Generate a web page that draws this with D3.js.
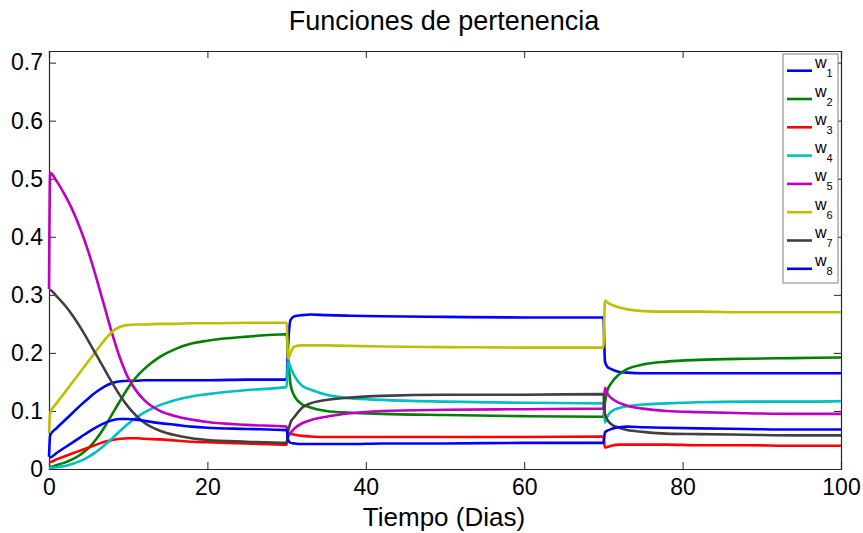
<!DOCTYPE html>
<html>
<head>
<meta charset="utf-8">
<script src="https://cdn.jsdelivr.net/npm/d3@7"></script>
<style>
  html, body { margin: 0; padding: 0; background: #fff; }
  svg { display: block; font-family: "Liberation Sans", Arial, Helvetica, sans-serif; }
</style>
</head>
<body>
<svg id="chart" width="863" height="533"></svg>
<script>
// ---- data ----
const chartTitle = "Funciones de pertenencia";
const xLabel = "Tiempo (Dias)";
const xTicks = [0, 20, 40, 60, 80, 100];
const yTicks = [0, 0.1, 0.2, 0.3, 0.4, 0.5, 0.6, 0.7];
const seriesNames = ["w1", "w2", "w3", "w4", "w5", "w6", "w7", "w8"];
const seriesColors = ["#0000ff", "#008000", "#ff0000", "#00bfbf", "#bf00bf", "#bfbf00", "#404040", "#0000ff"];

const time = [0, 0.15, 1, 2, 3, 4, 5, 6, 7, 8, 9, 10, 11, 12, 14, 16, 18, 20, 25, 30,
  30.2, 30.5, 31, 32, 33, 35, 38, 42, 50, 60, 70,
  70.2, 70.5, 71, 72, 73, 75, 78, 82, 88, 94, 100];

const w1 = [0.021, 0.058, 0.071, 0.084, 0.097, 0.110, 0.122, 0.133, 0.142, 0.148, 0.151, 0.152, 0.152, 0.153, 0.153, 0.153, 0.153, 0.153, 0.154, 0.154,
  0.215, 0.257, 0.263, 0.265, 0.266, 0.265, 0.264, 0.263, 0.262, 0.261, 0.261,
  0.185, 0.176, 0.172, 0.167, 0.166, 0.165, 0.165, 0.165, 0.165, 0.165, 0.165];
const w2 = [0.004, 0.004, 0.007, 0.011, 0.017, 0.025, 0.036, 0.052, 0.072, 0.095, 0.118, 0.140, 0.158, 0.172, 0.193, 0.207, 0.216, 0.221, 0.228, 0.232,
  0.190, 0.145, 0.125, 0.111, 0.106, 0.100, 0.097, 0.095, 0.093, 0.091, 0.090,
  0.115, 0.135, 0.148, 0.163, 0.172, 0.180, 0.185, 0.188, 0.190, 0.191, 0.192];
const w3 = [0.012, 0.012, 0.017, 0.022, 0.027, 0.032, 0.037, 0.042, 0.047, 0.050, 0.052, 0.053, 0.053, 0.052, 0.051, 0.049, 0.047, 0.046, 0.044, 0.042,
  0.062, 0.061, 0.059, 0.057, 0.056, 0.055, 0.055, 0.055, 0.055, 0.055, 0.056,
  0.037, 0.038, 0.040, 0.042, 0.042, 0.042, 0.042, 0.041, 0.041, 0.040, 0.040];
const w4 = [0.002, 0.002, 0.003, 0.005, 0.009, 0.014, 0.021, 0.030, 0.041, 0.053, 0.066, 0.078, 0.088, 0.097, 0.110, 0.119, 0.125, 0.129, 0.136, 0.141,
  0.185, 0.175, 0.160, 0.143, 0.137, 0.128, 0.122, 0.119, 0.116, 0.114, 0.113,
  0.080, 0.090, 0.099, 0.105, 0.108, 0.111, 0.113, 0.115, 0.116, 0.116, 0.117];
const w5 = [0.310, 0.510, 0.495, 0.472, 0.445, 0.412, 0.373, 0.328, 0.280, 0.232, 0.190, 0.157, 0.135, 0.119, 0.100, 0.091, 0.085, 0.081, 0.076, 0.073,
  0.056, 0.062, 0.070, 0.079, 0.084, 0.090, 0.096, 0.100, 0.102, 0.103, 0.104,
  0.140, 0.130, 0.122, 0.114, 0.109, 0.104, 0.100, 0.098, 0.096, 0.095, 0.095];
const w6 = [0.062, 0.096, 0.114, 0.132, 0.150, 0.168, 0.186, 0.204, 0.222, 0.237, 0.245, 0.248, 0.249, 0.249, 0.250, 0.250, 0.251, 0.251, 0.252, 0.252,
  0.190, 0.200, 0.211, 0.213, 0.213, 0.213, 0.212, 0.211, 0.210, 0.209, 0.209,
  0.290, 0.287, 0.283, 0.278, 0.275, 0.272, 0.271, 0.271, 0.270, 0.270, 0.270];
const w7 = [0.308, 0.308, 0.297, 0.282, 0.264, 0.243, 0.220, 0.196, 0.172, 0.148, 0.126, 0.107, 0.092, 0.080, 0.066, 0.058, 0.053, 0.050, 0.047, 0.045,
  0.065, 0.080, 0.090, 0.106, 0.113, 0.119, 0.123, 0.126, 0.128, 0.128, 0.129,
  0.095, 0.085, 0.077, 0.071, 0.067, 0.064, 0.061, 0.060, 0.059, 0.058, 0.058];
const w8 = [0.020, 0.020, 0.028, 0.037, 0.046, 0.055, 0.064, 0.072, 0.079, 0.084, 0.086, 0.086, 0.085, 0.083, 0.079, 0.076, 0.073, 0.071, 0.069, 0.067,
  0.050, 0.045, 0.044, 0.043, 0.043, 0.043, 0.043, 0.044, 0.044, 0.045, 0.045,
  0.063, 0.066, 0.069, 0.072, 0.073, 0.072, 0.071, 0.070, 0.069, 0.068, 0.068];

const seriesValues = [w1, w2, w3, w4, w5, w6, w7, w8];

// ---- layout ----
const svg = d3.select("#chart");
const margin = { left: 49, right: 22, top: 51, bottom: 64 };
const W = 863, H = 533;
const x = d3.scaleLinear().domain([0, 100]).range([margin.left, W - margin.right]);
const y = d3.scaleLinear().domain([0, 0.72]).range([H - margin.bottom, margin.top]);

svg.append("rect").attr("width", W).attr("height", H).attr("fill", "#fff");

// title
svg.append("text").attr("x", 444).attr("y", 30).attr("text-anchor", "middle")
  .attr("font-size", 27).attr("fill", "#000").text(chartTitle);

// lines
const line = d3.line().x((d, i) => x(time[i])).y(d => y(d)).curve(d3.curveMonotoneX);
const plot = svg.append("g");
seriesValues.forEach((vals, k) => {
  plot.append("path").datum(vals).attr("d", line)
    .attr("fill", "none").attr("stroke", seriesColors[k]).attr("stroke-width", 2.6)
    .attr("stroke-linejoin", "round");
});

// axes (MATLAB style: inward ticks on all sides)
const tickLen = 7;
const axB = svg.append("g").attr("transform", `translate(0,${y(0)})`)
  .call(d3.axisBottom(x).tickValues(xTicks).tickSize(-tickLen).tickPadding(10).tickFormat(d3.format("d")));
const axT = svg.append("g").attr("transform", `translate(0,${y(0.72)})`)
  .call(d3.axisTop(x).tickValues(xTicks).tickSize(-tickLen).tickFormat(""));
const axL = svg.append("g").attr("transform", `translate(${x(0)},0)`)
  .call(d3.axisLeft(y).tickValues(yTicks).tickSize(-tickLen).tickPadding(6).tickFormat(d => d === 0 ? "0" : d3.format(".1f")(d)));
const axR = svg.append("g").attr("transform", `translate(${x(100)},0)`)
  .call(d3.axisRight(y).tickValues(yTicks).tickSize(-tickLen).tickFormat(""));
[axB, axT, axL, axR].forEach(a => {
  a.selectAll("path").attr("stroke", "#262626").attr("stroke-width", 1.2);
  a.selectAll("line").attr("stroke", "#262626");
  a.selectAll("text").attr("font-size", 23).attr("fill", "#000")
    .attr("font-family", "'Liberation Sans', Arial, sans-serif");
});
// keep the coloured start segments visible over the left axis line
plot.raise();
svg.selectAll(".legend-layer").raise();

// x label
svg.append("text").attr("x", 444).attr("y", 526).attr("text-anchor", "middle")
  .attr("font-size", 26).attr("fill", "#000").text(xLabel);

// legend
const lg = svg.append("g").attr("class", "legend-layer");
lg.append("rect").attr("x", 783).attr("y", 54).attr("width", 55).attr("height", 229)
  .attr("fill", "#fff").attr("stroke", "#808080").attr("stroke-width", 1);
seriesNames.forEach((name, k) => {
  const cy = 70.7 + k * 28.3;
  lg.append("line").attr("x1", 787).attr("x2", 812).attr("y1", cy).attr("y2", cy)
    .attr("stroke", seriesColors[k]).attr("stroke-width", 2.6);
  const t = lg.append("text").attr("x", 815).attr("y", cy - 2.5).attr("font-size", 16).attr("fill", "#000");
  t.append("tspan").text(name[0]);
  t.append("tspan").attr("dy", 9).attr("font-size", 11).text(name.slice(1));
});
</script>
</body>
</html>
